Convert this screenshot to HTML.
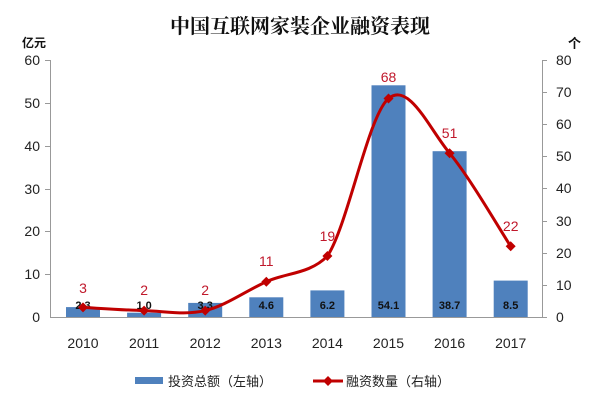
<!DOCTYPE html>
<html><head><meta charset="utf-8"><style>
html,body{margin:0;padding:0;background:#fff;}
svg{display:block;}
</style></head><body>
<svg width="600" height="405" xmlns="http://www.w3.org/2000/svg" font-family="Liberation Sans, Noto Sans CJK SC, sans-serif">
<text x="300" y="33" text-anchor="middle" font-size="20" font-weight="bold" font-family="Liberation Serif, Noto Serif CJK SC, serif" fill="#111">中国互联网家装企业融资表现</text>
<text x="22" y="47" font-size="12" font-weight="bold" fill="#111" font-family="Noto Sans CJK SC, sans-serif">亿元</text>
<text x="568" y="48" font-size="13" font-weight="bold" fill="#111" font-family="Noto Sans CJK SC, sans-serif">个</text>
<g stroke="#999" stroke-width="1" fill="none">
<line x1="50.5" y1="60" x2="50.5" y2="317"/>
<line x1="542.5" y1="60" x2="542.5" y2="317"/>
<line x1="50" y1="317.5" x2="542" y2="317.5"/>
<line x1="45" y1="60.5" x2="50" y2="60.5"/><line x1="45" y1="103.5" x2="50" y2="103.5"/><line x1="45" y1="146.5" x2="50" y2="146.5"/><line x1="45" y1="189.5" x2="50" y2="189.5"/><line x1="45" y1="231.5" x2="50" y2="231.5"/><line x1="45" y1="274.5" x2="50" y2="274.5"/>
<line x1="542" y1="60.5" x2="547" y2="60.5"/><line x1="542" y1="92.5" x2="547" y2="92.5"/><line x1="542" y1="124.5" x2="547" y2="124.5"/><line x1="542" y1="156.5" x2="547" y2="156.5"/><line x1="542" y1="188.5" x2="547" y2="188.5"/><line x1="542" y1="221.5" x2="547" y2="221.5"/><line x1="542" y1="253.5" x2="547" y2="253.5"/><line x1="542" y1="285.5" x2="547" y2="285.5"/><line x1="542" y1="317.5" x2="547" y2="317.5"/>
</g>
<g font-size="14" fill="#222" text-anchor="end">
<text x="40" y="65">60</text><text x="40" y="108">50</text><text x="40" y="151">40</text><text x="40" y="194">30</text><text x="40" y="236">20</text><text x="40" y="279">10</text><text x="40" y="322">0</text>
</g>
<g font-size="14" fill="#222" text-anchor="start">
<text x="556" y="65">80</text><text x="556" y="97">70</text><text x="556" y="129">60</text><text x="556" y="161">50</text><text x="556" y="193">40</text><text x="556" y="226">30</text><text x="556" y="258">20</text><text x="556" y="290">10</text><text x="556" y="322">0</text>
</g>
<g fill="#4f81bd">
<rect x="66" y="307.1" width="34" height="9.9"/>
<rect x="127.1" y="312.7" width="34" height="4.3"/>
<rect x="188.2" y="302.9" width="34" height="14.1"/>
<rect x="249.3" y="297.3" width="34" height="19.7"/>
<rect x="310.4" y="290.4" width="34" height="26.6"/>
<rect x="371.5" y="85.3" width="34" height="231.7"/>
<rect x="432.6" y="151.2" width="34" height="165.8"/>
<rect x="493.7" y="280.6" width="34" height="36.4"/>
</g>
<g font-size="11" font-weight="bold" fill="#111" text-anchor="middle">
<text x="83" y="309">2.3</text><text x="144.1" y="309">1.0</text><text x="205.2" y="309">3.3</text><text x="266.3" y="309">4.6</text><text x="327.4" y="309">6.2</text><text x="388.5" y="309">54.1</text><text x="449.6" y="309">38.7</text><text x="510.7" y="309">8.5</text>
</g>
<path d="M83,307.4 C93.2,307.9 123.7,310.1 144.1,310.6 C164.5,311.1 184.8,315.4 205.2,310.6 C225.6,305.8 245.9,290.8 266.3,281.7 C286.7,272.6 310,274 327.4,256 C347.8,225.5 368.1,115.6 388.5,98.5 C408.9,81.4 429.2,128.6 449.6,153.2 C470,177.8 500.5,230.8 510.7,246.3" fill="none" stroke="#c00000" stroke-width="3"/>
<g fill="#c00000">
<path d="M83,302.4 l5,5 -5,5 -5,-5z"/><path d="M144.1,305.6 l5,5 -5,5 -5,-5z"/><path d="M205.2,305.6 l5,5 -5,5 -5,-5z"/><path d="M266.3,276.7 l5,5 -5,5 -5,-5z"/><path d="M327.4,251 l5,5 -5,5 -5,-5z"/><path d="M388.5,93.5 l5,5 -5,5 -5,-5z"/><path d="M449.6,148.2 l5,5 -5,5 -5,-5z"/><path d="M510.7,241.3 l5,5 -5,5 -5,-5z"/>
</g>
<g font-size="14" fill="#c0182b" text-anchor="middle">
<text x="83" y="293">3</text><text x="144.1" y="295">2</text><text x="205.2" y="295">2</text><text x="266.3" y="266">11</text><text x="327.4" y="241">19</text><text x="388.5" y="82">68</text><text x="449.6" y="138">51</text><text x="510.7" y="231">22</text>
</g>
<g font-size="14" fill="#222" text-anchor="middle">
<text x="83" y="348">2010</text><text x="144.1" y="348">2011</text><text x="205.2" y="348">2012</text><text x="266.3" y="348">2013</text><text x="327.4" y="348">2014</text><text x="388.5" y="348">2015</text><text x="449.6" y="348">2016</text><text x="510.7" y="348">2017</text>
</g>
<rect x="135" y="377" width="28" height="7" fill="#4f81bd"/>
<text x="168" y="386" font-size="13" fill="#222" font-family="Noto Sans CJK SC, sans-serif">投资总额（左轴）</text>
<line x1="313" y1="381" x2="343" y2="381" stroke="#c00000" stroke-width="3"/>
<path d="M328,376 l5,5 -5,5 -5,-5z" fill="#c00000"/>
<text x="346" y="386" font-size="13" fill="#222" font-family="Noto Sans CJK SC, sans-serif">融资数量（右轴）</text>
</svg>
</body></html>
